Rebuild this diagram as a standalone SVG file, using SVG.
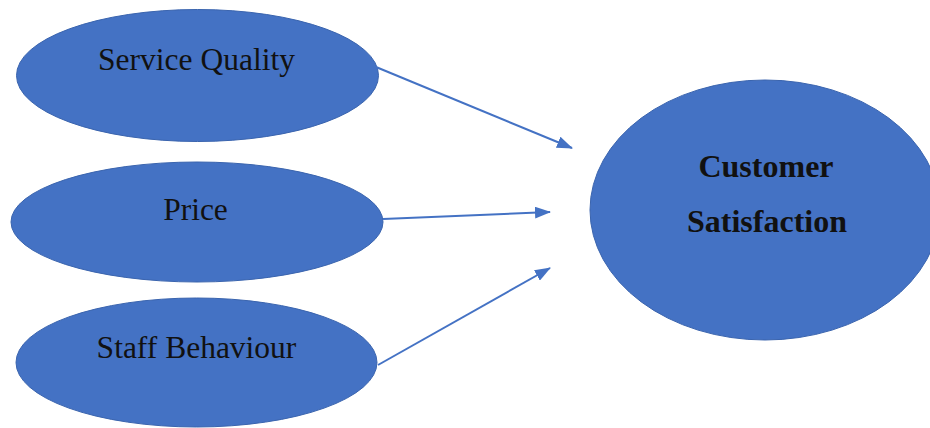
<svg xmlns="http://www.w3.org/2000/svg" width="930" height="428" viewBox="0 0 930 428">
  <defs>
    <marker id="arrowhead" viewBox="0 0 16 12" refX="15" refY="6" markerWidth="16" markerHeight="12" markerUnits="userSpaceOnUse" orient="auto">
      <path d="M0,0 L16,6 L0,12 z" fill="#4472C4"/>
    </marker>
    <style>
      .node ellipse { fill: #4472C4; stroke: #3A64AE; stroke-width: 1; }
      .label { font-family: "Liberation Serif", "Times New Roman", serif; font-size: 31.5px; fill: #111; text-anchor: middle; }
      .bold { font-weight: bold; font-size: 32px; }
      .connectors line { stroke: #4472C4; stroke-width: 2; marker-end: url(#arrowhead); }
    </style>
  </defs>
  <rect width="930" height="428" fill="#fff"/>

  <g id="service-quality" class="node">
    <ellipse cx="197.5" cy="75.5" rx="181" ry="66"/>
    <text class="label" x="196.5" y="70">Service Quality</text>
  </g>

  <g id="price" class="node">
    <ellipse cx="197" cy="222" rx="186" ry="60"/>
    <text class="label" x="195.5" y="220">Price</text>
  </g>

  <g id="staff-behaviour" class="node">
    <ellipse cx="196.5" cy="362.5" rx="180.5" ry="64.5"/>
    <text class="label" x="196.5" y="358">Staff Behaviour</text>
  </g>

  <g id="customer-satisfaction" class="node">
    <ellipse cx="765" cy="210" rx="175" ry="130"/>
    <text class="label bold" x="766" y="177">Customer</text>
    <text class="label bold" x="767" y="232">Satisfaction</text>
  </g>

  <g id="connectors" class="connectors">
    <line x1="376" y1="67" x2="572" y2="148"/>
    <line x1="383" y1="219" x2="550" y2="212"/>
    <line x1="378" y1="365" x2="550" y2="268"/>
  </g>
</svg>
